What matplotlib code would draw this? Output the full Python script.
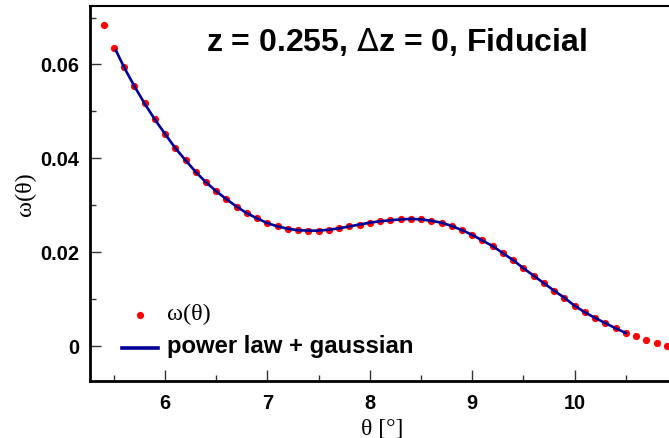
import matplotlib
matplotlib.use("Agg")
import matplotlib.pyplot as plt
from matplotlib.ticker import MultipleLocator, FixedLocator

# ---- data ----
theta = [5.4, 5.5, 5.6, 5.7, 5.8, 5.9, 6.0, 6.1, 6.2, 6.3, 6.4, 6.5, 6.6, 6.7, 6.8, 6.9,
         7.0, 7.1, 7.2, 7.3, 7.4, 7.5, 7.6, 7.7, 7.8, 7.9, 8.0, 8.1, 8.2, 8.3, 8.4, 8.5,
         8.6, 8.7, 8.8, 8.9, 9.0, 9.1, 9.2, 9.3, 9.4, 9.5, 9.6, 9.7, 9.8, 9.9, 10.0,
         10.1, 10.2, 10.3, 10.4, 10.5, 10.6, 10.7, 10.8, 10.9]
omega = [0.0685, 0.0636, 0.0594, 0.0554, 0.0517, 0.0483, 0.0452, 0.0422, 0.0396, 0.0371,
         0.0349, 0.0330, 0.0313, 0.0297, 0.0283, 0.0272, 0.0262, 0.0255, 0.0250, 0.0247,
         0.0246, 0.0246, 0.0248, 0.0251, 0.0255, 0.0259, 0.0263, 0.0266, 0.0268, 0.0270,
         0.0271, 0.0270, 0.0267, 0.0263, 0.0256, 0.0247, 0.0237, 0.0225, 0.0213, 0.0198,
         0.0183, 0.0166, 0.0150, 0.0134, 0.0118, 0.0103, 0.0086, 0.0072, 0.0060, 0.0049,
         0.0038, 0.0028, 0.0021, 0.0013, 0.0006, 0.0001]

fit_theta = [5.52, 5.6, 5.7, 5.8, 5.9, 6.0, 6.1, 6.2, 6.3, 6.4, 6.5, 6.6, 6.7, 6.8, 6.9,
             7.0, 7.1, 7.2, 7.3, 7.4, 7.5, 7.6, 7.7, 7.8, 7.9, 8.0, 8.1, 8.2, 8.3, 8.4,
             8.5, 8.6, 8.7, 8.8, 8.9, 9.0, 9.1, 9.2, 9.3, 9.4, 9.5, 9.6, 9.7, 9.8, 9.9,
             10.0, 10.1, 10.2, 10.3, 10.4, 10.5]
fit_omega = [0.0630, 0.0594, 0.0554, 0.0517, 0.0483, 0.0452, 0.0422, 0.0396, 0.0371,
             0.0349, 0.0330, 0.0313, 0.0297, 0.0283, 0.0272, 0.0262, 0.0255, 0.0250,
             0.0247, 0.0246, 0.0246, 0.0248, 0.0251, 0.0255, 0.0259, 0.0263, 0.0266,
             0.0268, 0.0270, 0.0271, 0.0270, 0.0267, 0.0263, 0.0256, 0.0247, 0.0237,
             0.0225, 0.0213, 0.0198, 0.0183, 0.0166, 0.0150, 0.0134, 0.0118, 0.0103,
             0.0086, 0.0072, 0.0060, 0.0049, 0.0038, 0.0028]

xticks = [6, 7, 8, 9, 10]
xticklabels = ["6", "7", "8", "9", "10"]
yticks = [0.0, 0.02, 0.04, 0.06]
yticklabels = ["0", "0.02", "0.04", "0.06"]

title = "z = 0.255, $\\Delta$z = 0, Fiducial"
label_data = "ω(θ)"
label_fit = "power law + gaussian"

# ---- figure ----
W, H = 669, 438
fig = plt.figure(figsize=(W / 100, H / 100), dpi=100)
x0, x1 = 90.3, 676.0
y0, y1 = 6.3, 381.3
ax = fig.add_axes([x0 / W, 1 - y1 / H, (x1 - x0) / W, (y1 - y0) / H])
ax.set_xlim(5.27, 10.99)
ax.set_ylim(-0.0075, 0.0724)

pts, = ax.plot(theta, omega, linestyle="none", marker="o", ms=5.2,
               mfc="#ff0000", mec="#ff0000", mew=0, label=label_data, zorder=3,
               clip_on=False)
line, = ax.plot(fit_theta, fit_omega, color="#000099", lw=1.9,
                label=label_fit, zorder=4)

for s in ["left", "bottom"]:
    ax.spines[s].set_linewidth(2.0)
ax.spines["top"].set_linewidth(1.5)
ax.spines["right"].set_linewidth(1.5)

ax.xaxis.set_major_locator(FixedLocator(xticks))
ax.set_xticklabels(xticklabels)
ax.xaxis.set_minor_locator(MultipleLocator(0.5))
ax.yaxis.set_major_locator(FixedLocator(yticks))
ax.set_yticklabels(yticklabels)
ax.yaxis.set_minor_locator(MultipleLocator(0.01))

ax.tick_params(which="both", direction="in", top=False, right=False, width=1.0,
               color="#333333")
ax.tick_params(which="major", length=8)
ax.tick_params(which="minor", length=4)
ax.tick_params(axis="x", which="major", pad=9)
ax.tick_params(axis="y", which="major", pad=8)
for t in ax.get_xticklabels() + ax.get_yticklabels():
    t.set_fontfamily("Liberation Sans")
    t.set_fontweight("bold")
    t.set_fontsize(14.3)

ax.set_xlabel("θ [°]", family="Liberation Serif", fontsize=17)
ax.xaxis.set_label_coords(0.498, -0.098)
ax.xaxis.label.set_va("top")
ax.set_ylabel("ω(θ)", family="Liberation Serif", fontsize=17.5)
ax.yaxis.set_label_coords((25 - x0) / (x1 - x0), 0.5)
ax.yaxis.label.set_va("center")

fig.text(396.5 / W, 1 - 51 / H, title, ha="center", va="baseline",
         family="Liberation Sans", fontweight="bold", fontsize=23)

leg = ax.legend(handles=[pts, line], loc="lower left",
                bbox_to_anchor=(32 / (x1 - x0), (381.3 - 358) / (y1 - y0)),
                frameon=False, handlelength=2.6, handletextpad=0.62,
                labelspacing=0.75, borderpad=0, borderaxespad=0, markerscale=1.0)
texts = leg.get_texts()
texts[0].set_fontfamily("Liberation Serif")
texts[0].set_fontsize(17.5)
texts[1].set_fontfamily("Liberation Sans")
texts[1].set_fontweight("bold")
texts[1].set_fontsize(17.2)
leg.legend_handles[1].set_linewidth(2.6)

fig.savefig("out.png", dpi=100)
